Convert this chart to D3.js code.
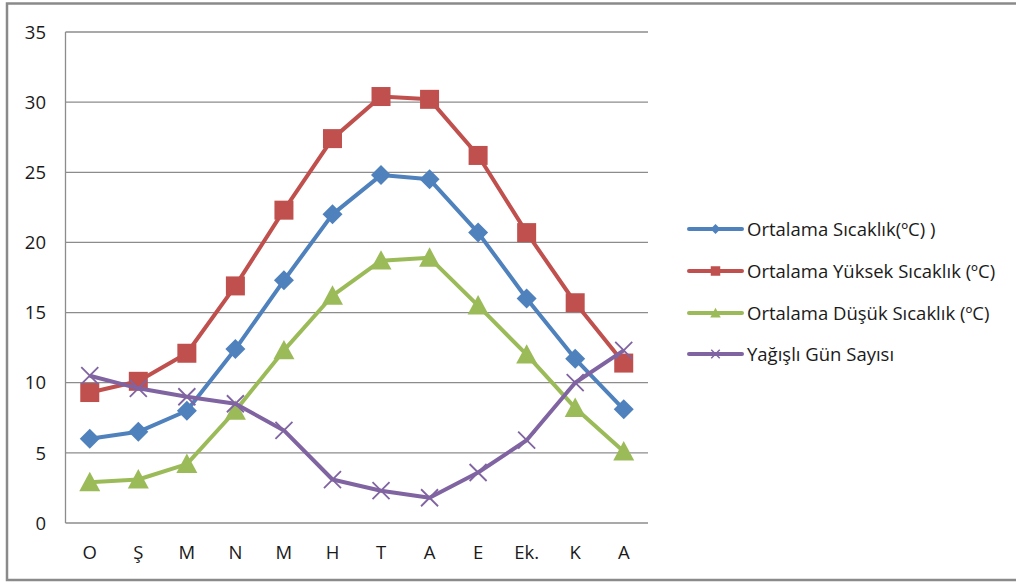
<!DOCTYPE html>
<html><head><meta charset="utf-8">
<script src="https://cdn.jsdelivr.net/npm/d3@7"></script>
<style>html,body{margin:0;padding:0;background:#fff;}svg{display:block;}</style>
</head><body>
<svg id="c" width="1016" height="585"></svg>
<script>
const months = ["O","Ş","M","N","M","H","T","A","E","Ek.","K","A"];
const yTicks = [0,5,10,15,20,25,30,35];
const seriesNames = ["Ortalama Sıcaklık(ºC) )","Ortalama Yüksek Sıcaklık (ºC)","Ortalama Düşük Sıcaklık (ºC)","Yağışlı Gün Sayısı"];
const ortalama = [6.0,6.5,8.0,12.4,17.3,22.0,24.8,24.5,20.7,16.0,11.7,8.1];
const yuksek = [9.3,10.1,12.1,16.9,22.3,27.4,30.4,30.2,26.2,20.7,15.7,11.4];
const dusuk = [2.9,3.1,4.2,8.0,12.3,16.2,18.7,18.9,15.5,12.0,8.2,5.1];
const yagisli = [10.5,9.6,9.0,8.5,6.6,3.1,2.3,1.8,3.6,5.9,10.0,12.3];
const colors = ["#4F81BD","#C0504D","#9BBB59","#8064A2"];
const markers = ["diamond","square","triangle","x"];
const data = [ortalama,yuksek,dusuk,yagisli];

const svg = d3.select("#c");
const font = "'Open Sans', sans-serif";
const fs = 18.5;
// frame
svg.append("rect").attr("x",7).attr("y",3.5).attr("width",1030).attr("height",576.5)
  .attr("fill","none").attr("stroke","#8a8a8a").attr("stroke-width",2.5);

const L=65.5, R=648, T=32, B=523;
const x = d3.scaleBand().domain(d3.range(months.length)).range([L,R]);
const y = d3.scaleLinear().domain([0,35]).range([B,T]);

// gridlines
svg.append("g").selectAll("line").data(yTicks).join("line")
  .attr("x1",L).attr("x2",R).attr("y1",d=>y(d)).attr("y2",d=>y(d))
  .attr("stroke","#8c8c8c").attr("stroke-width",1.3);
svg.append("line").attr("x1",L).attr("x2",L).attr("y1",T).attr("y2",B).attr("stroke","#8c8c8c").attr("stroke-width",1.3);

// y labels
svg.append("g").selectAll("text").data(yTicks).join("text")
  .attr("x",46).attr("y",d=>y(d)).attr("dy","0.36em").attr("text-anchor","end")
  .attr("font-family",font).attr("font-size",fs).attr("fill","#1a1a1a").text(d=>d);
// x labels
svg.append("g").selectAll("text").data(months).join("text")
  .attr("x",(d,i)=>x(i)+x.bandwidth()/2).attr("y",552).attr("dy","0.36em").attr("text-anchor","middle")
  .attr("font-family",font).attr("font-size",fs).attr("fill","#1a1a1a").text(d=>d);

function drawMarker(sel, type, color, scale){
  scale = scale||1;
  if(type==="diamond"){
    const h=10*scale;
    sel.append("path").attr("d",`M0,${-h}L${h},0L0,${h}L${-h},0Z`).attr("fill",color);
  } else if(type==="square"){
    const h=9.5*scale;
    sel.append("rect").attr("x",-h).attr("y",-h).attr("width",2*h).attr("height",2*h).attr("fill",color);
  } else if(type==="triangle"){
    const h=10.5*scale;
    sel.append("path").attr("d",`M0,${-h}L${h},${h*0.85}L${-h},${h*0.85}Z`).attr("fill",color);
  } else {
    const h=8.5*scale;
    sel.append("path").attr("d",`M${-h},${-h}L${h},${h}M${-h},${h}L${h},${-h}`).attr("stroke",color).attr("stroke-width",1.8*Math.max(scale,0.8)).attr("fill","none");
  }
}

const line = d3.line().x((d,i)=>x(i)+x.bandwidth()/2).y(d=>y(d));
data.forEach((vals,si)=>{
  const g = svg.append("g");
  g.append("path").datum(vals).attr("d",line).attr("fill","none")
    .attr("stroke",colors[si]).attr("stroke-width",4).attr("stroke-linejoin","round");
  vals.forEach((v,i)=>{
    const m = g.append("g").attr("transform",`translate(${x(i)+x.bandwidth()/2},${y(v)})`);
    drawMarker(m, markers[si], colors[si], 1);
  });
});

// legend
const legY = [229,271,313,354];
seriesNames.forEach((n,i)=>{
  const g = svg.append("g").attr("transform",`translate(0,${legY[i]})`);
  g.append("line").attr("x1",689).attr("x2",742).attr("y1",0).attr("y2",0)
    .attr("stroke",colors[i]).attr("stroke-width",4).attr("stroke-linecap","round");
  const m = g.append("g").attr("transform","translate(715.5,0)");
  drawMarker(m, markers[i], colors[i], 0.5);
  g.append("text").attr("x",747).attr("y",0).attr("dy","0.36em")
    .attr("font-family",font).attr("font-size",fs).attr("fill","#1a1a1a").text(n);
});
</script>
</body></html>
